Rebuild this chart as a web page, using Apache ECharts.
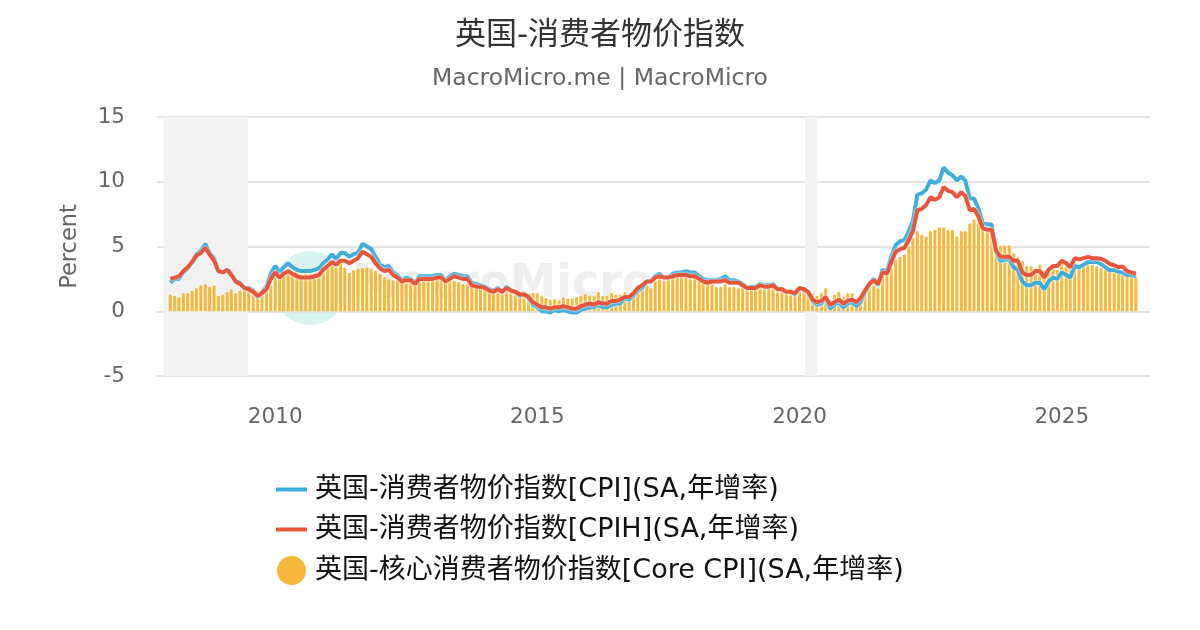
<!DOCTYPE html>
<html>
<head>
<meta charset="utf-8">
<script src="https://cdn.jsdelivr.net/npm/echarts@6/dist/echarts.min.js"></script>
<style>
html,body{margin:0;padding:0;background:#fff;}
#chart{width:1200px;height:630px;}
</style>
</head>
<body>
<div id="chart"></div>
<script>
// Monthly data, Jan 2008 .. Jun 2026
const startYear = 2008;
const startMonth = 1;

const cpi = [
  2.2,2.5,2.5,3.0,3.3,3.8,4.4,4.7,5.2,4.5,4.1,3.1,
  3.0,3.2,2.9,2.3,2.2,1.8,1.8,1.6,1.1,1.5,1.9,2.9,
  3.5,3.0,3.4,3.7,3.4,3.2,3.1,3.1,3.1,3.2,3.3,3.7,
  4.0,4.4,4.0,4.5,4.5,4.2,4.4,4.5,5.2,5.0,4.8,4.2,
  3.6,3.4,3.5,3.0,2.8,2.4,2.6,2.5,2.2,2.7,2.7,2.7,
  2.7,2.8,2.8,2.4,2.7,2.9,2.8,2.7,2.7,2.2,2.1,2.0,
  1.9,1.7,1.6,1.8,1.5,1.9,1.6,1.5,1.2,1.3,1.0,0.5,
  0.3,0.0,0.0,-0.1,0.1,0.0,0.1,0.0,-0.1,-0.1,0.1,0.2,
  0.3,0.3,0.5,0.3,0.3,0.5,0.6,0.6,1.0,0.9,1.2,1.6,
  1.8,2.3,2.3,2.7,2.9,2.6,2.6,2.9,3.0,3.0,3.1,3.0,
  3.0,2.7,2.5,2.4,2.4,2.4,2.5,2.7,2.4,2.4,2.3,2.1,
  1.8,1.9,1.9,2.1,2.0,2.0,2.1,1.7,1.7,1.5,1.5,1.3,
  1.8,1.7,1.5,0.8,0.5,0.6,1.0,0.2,0.5,0.7,0.3,0.6,
  0.7,0.4,0.7,1.5,2.1,2.5,2.0,3.2,3.1,4.2,5.1,5.4,
  5.5,6.2,7.0,9.0,9.1,9.4,10.1,9.9,10.1,11.1,10.7,10.5,
  10.1,10.4,10.1,8.7,8.7,7.9,6.8,6.7,6.7,4.6,3.9,4.0,
  4.0,3.4,3.2,2.3,2.0,2.0,2.2,2.2,1.7,2.3,2.6,2.5,
  3.0,2.8,2.6,3.5,3.4,3.6,3.8,3.8,3.8,3.65,3.4,3.15,
  3.2,3.05,3.0,2.8,2.8,2.7
];

const cpih = [
  2.5,2.6,2.7,3.1,3.4,3.8,4.3,4.5,4.9,4.4,3.9,3.1,
  3.0,3.2,2.8,2.3,2.1,1.8,1.7,1.5,1.2,1.4,1.7,2.5,
  3.0,2.6,2.9,3.1,2.9,2.7,2.6,2.6,2.6,2.7,2.8,3.2,
  3.5,3.8,3.6,3.9,3.9,3.7,3.9,4.1,4.6,4.4,4.2,3.7,
  3.3,3.1,3.2,2.8,2.6,2.3,2.4,2.4,2.1,2.5,2.5,2.5,
  2.5,2.6,2.6,2.3,2.5,2.7,2.6,2.5,2.5,2.0,1.9,1.9,
  1.8,1.6,1.5,1.7,1.5,1.8,1.6,1.5,1.3,1.3,1.1,0.7,
  0.5,0.3,0.3,0.2,0.3,0.3,0.4,0.3,0.2,0.2,0.4,0.5,
  0.6,0.5,0.7,0.6,0.6,0.8,0.8,0.9,1.1,1.1,1.4,1.8,
  2.0,2.3,2.3,2.6,2.7,2.6,2.6,2.7,2.8,2.8,2.8,2.7,
  2.7,2.5,2.3,2.2,2.3,2.3,2.3,2.4,2.2,2.2,2.2,2.0,
  1.8,1.8,1.8,2.0,1.9,1.9,2.0,1.7,1.7,1.5,1.5,1.4,
  1.8,1.7,1.5,0.9,0.7,0.8,1.1,0.5,0.7,0.9,0.6,0.8,
  0.9,0.7,1.0,1.6,2.1,2.4,2.1,3.0,2.9,3.8,4.6,4.8,
  4.9,5.5,6.2,7.8,7.9,8.2,8.8,8.6,8.8,9.6,9.3,9.2,
  8.8,9.2,8.9,7.8,7.9,7.3,6.4,6.3,6.3,4.7,4.2,4.2,
  4.2,3.9,3.9,3.0,2.8,2.8,3.1,3.1,2.6,3.2,3.5,3.5,
  3.9,3.7,3.4,4.1,4.0,4.1,4.2,4.1,4.1,4.05,3.9,3.65,
  3.55,3.4,3.45,3.1,3.0,2.9
];

const coreCpi = [
  1.3,1.2,1.1,1.4,1.4,1.6,1.8,2.0,2.1,1.9,2.0,1.2,
  1.3,1.5,1.7,1.4,1.6,1.7,1.7,1.7,1.6,1.6,1.8,2.0,
  3.0,2.9,3.0,3.1,3.0,3.2,2.9,2.95,2.95,2.9,3.0,3.3,
  3.4,3.7,3.4,3.75,3.4,3.0,3.2,3.3,3.35,3.4,3.3,3.15,
  2.9,2.65,2.5,2.4,2.4,2.35,2.2,2.2,2.25,2.35,2.4,2.4,
  2.4,2.45,2.35,2.35,2.4,2.4,2.25,2.1,2.1,1.95,1.9,1.85,
  1.75,1.6,1.55,1.6,1.5,1.85,1.55,1.6,1.5,1.55,1.4,1.45,
  1.4,1.2,1.05,0.9,0.95,0.85,1.1,1.0,1.0,1.1,1.2,1.35,
  1.2,1.2,1.5,1.2,1.2,1.4,1.3,1.3,1.5,1.2,1.4,1.6,
  1.6,2.0,1.8,2.4,2.6,2.4,2.5,2.7,2.7,2.7,2.7,2.5,
  2.7,2.4,2.3,2.1,2.1,1.9,1.9,2.1,1.9,1.9,1.8,1.9,
  1.9,1.8,1.8,1.8,1.7,1.8,1.9,1.5,1.7,1.7,1.7,1.4,
  1.6,1.7,1.6,1.4,1.2,1.4,1.8,0.9,1.3,1.5,1.1,1.4,
  1.4,0.9,1.1,1.3,2.0,2.3,1.8,3.1,2.9,3.4,4.0,4.2,
  4.4,5.0,5.7,6.2,5.9,5.8,6.2,6.3,6.5,6.5,6.3,6.3,
  5.8,6.2,6.2,6.8,7.1,6.9,6.9,6.2,6.1,5.7,5.1,5.1,
  5.1,4.5,4.2,3.9,3.5,3.5,3.3,3.6,3.2,3.3,3.5,3.2,
  3.7,3.5,3.4,3.8,3.5,3.7,3.8,3.6,3.5,3.4,3.3,3.2,
  3.2,3.1,3.1,2.9,2.8,2.7
];

const yTicks = { min: -5, max: 15, interval: 5 };
const xLabelYears = [2010, 2015, 2020, 2025];
const recessions = [['2007-11-15', '2009-06-25'], ['2020-02-08', '2020-05-03']];

const seriesNames = [
  '英国-消费者物价指数[CPI](SA,年增率)',
  '英国-消费者物价指数[CPIH](SA,年增率)',
  '英国-核心消费者物价指数[Core CPI](SA,年增率)'
];

function monthDate(i) {
  const m0 = startMonth - 1 + i;
  const y = startYear + Math.floor(m0 / 12);
  const m = (m0 % 12) + 1;
  return y + '-' + (m < 10 ? '0' + m : m) + '-01';
}
const dates = cpi.map((_, i) => monthDate(i));
const pair = arr => arr.map((v, i) => [dates[i], v]);

const FONT = 'DejaVu Sans, "Noto Sans CJK SC", sans-serif';
const LINE_ICON = 'path://M0,0H31V4H0Z';
const chart = echarts.init(document.getElementById('chart'));

chart.setOption({
  backgroundColor: '#ffffff',
  animation: false,
  textStyle: { fontFamily: FONT },
  title: {
    text: '英国-消费者物价指数',
    subtext: 'MacroMicro.me | MacroMicro',
    left: 'center',
    top: 15,
    itemGap: 16,
    textStyle: { fontSize: 31, fontWeight: 'normal', color: '#333333', fontFamily: FONT },
    subtextStyle: { fontSize: 23.5, color: '#666666', fontFamily: FONT }
  },
  graphic: [
    { type: 'circle', shape: { cx: 310, cy: 288, r: 37 }, style: { fill: '#d5f5ee' }, z: 0, silent: true },
    { type: 'text', left: 352, top: 262, style: { text: 'MacroMicro', fontSize: 46, fontWeight: 'bold', fill: 'rgba(200,200,200,0.3)', fontFamily: FONT }, z: 0, silent: true }
  ],
  legend: {
    orient: 'vertical',
    left: 271,
    top: 471,
    itemWidth: 31,
    itemHeight: 29,
    itemGap: 13,
    symbolKeepAspect: true,
    textStyle: { fontSize: 27, color: '#111111', fontFamily: FONT, padding: [0, 0, 0, 3] },
    data: [
      { name: seriesNames[0], icon: LINE_ICON },
      { name: seriesNames[1], icon: LINE_ICON },
      { name: seriesNames[2], icon: 'circle' }
    ]
  },
  grid: { left: 157, right: 50, top: 117, bottom: 254, containLabel: false },
  xAxis: {
    type: 'time',
    min: '2007-10-11',
    max: '2026-08-28',
    minInterval: 365 * 24 * 3600 * 1000,
    maxInterval: 366 * 24 * 3600 * 1000,
    axisLine: { show: false },
    axisTick: { show: false },
    splitLine: { show: false },
    axisLabel: {
      margin: 31,
      fontSize: 21.5,
      color: '#666666',
      fontFamily: FONT,
      formatter: function (val) {
        const d = new Date(val);
        const y = d.getFullYear();
        return (d.getMonth() === 0 && xLabelYears.indexOf(y) >= 0) ? String(y) : '';
      }
    }
  },
  yAxis: {
    type: 'value',
    min: yTicks.min,
    max: yTicks.max,
    interval: yTicks.interval,
    name: 'Percent',
    nameLocation: 'middle',
    nameGap: 76,
    nameTextStyle: { fontSize: 22.5, color: '#666666', fontFamily: FONT },
    axisLine: { show: false },
    axisTick: { show: false },
    axisLabel: { margin: 32, fontSize: 21.5, color: '#666666', fontFamily: FONT },
    splitLine: { lineStyle: { color: '#e3e3e3', width: 2 } }
  },
  series: [
    {
      name: '_recession',
      type: 'line',
      data: [],
      z: 0,
      silent: true,
      markArea: {
        silent: true,
        itemStyle: { color: '#f2f2f2' },
        data: recessions.map(r => [{ xAxis: r[0] }, { xAxis: r[1] }])
      }
    },
    {
      name: seriesNames[0],
      type: 'line',
      data: pair(cpi),
      symbol: 'none',
      z: 4,
      color: '#3daedb',
      lineStyle: { width: 4, color: '#3daedb', shadowColor: '#ffffff', shadowBlur: 3 }
    },
    {
      name: seriesNames[1],
      type: 'line',
      data: pair(cpih),
      symbol: 'none',
      z: 5,
      color: '#e8553b',
      lineStyle: { width: 4, color: '#e8553b', shadowColor: '#ffffff', shadowBlur: 3 }
    },
    {
      name: seriesNames[2],
      type: 'bar',
      data: pair(coreCpi),
      z: 2,
      barWidth: 3,
      color: '#f5b83a',
      itemStyle: { color: '#f5b83a', borderRadius: [1.5, 1.5, 0, 0] }
    }
  ]
});
</script>
</body>
</html>
